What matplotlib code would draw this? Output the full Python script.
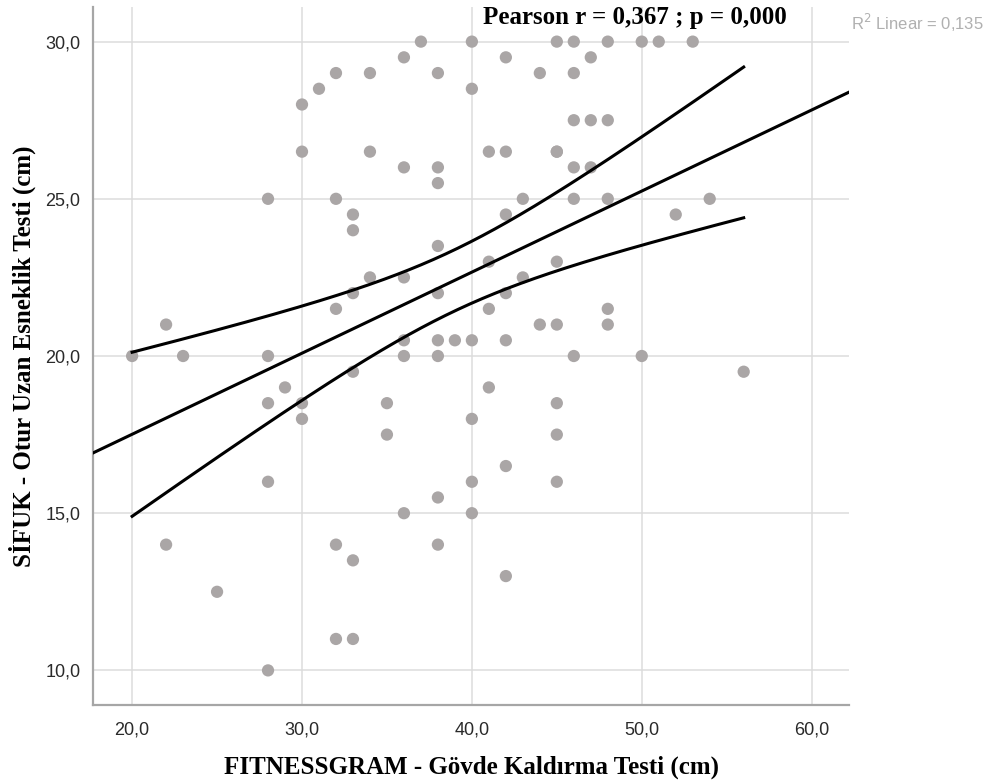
import numpy as np
import matplotlib
matplotlib.use('Agg')
import matplotlib.pyplot as plt

# Scatter data (x = trunk lift, y = sit and reach)
x_vals = [37, 40, 36, 32, 34, 38, 31, 40, 30, 30, 34, 41, 36, 38, 38, 28, 32, 33, 33, 38,
          41, 34, 36, 33, 38, 32, 41, 22, 36, 38, 39, 40, 42, 20, 23, 28, 36, 38, 29, 33,
          41, 45, 46, 48, 50, 51, 53, 42, 47, 44, 46, 46, 47, 48, 42, 45, 46, 47, 43, 46,
          48, 54, 42, 52, 45, 43, 42, 48, 44, 45, 48, 46, 50, 56, 45, 28, 30, 35, 30, 40,
          35, 42, 28, 40, 38, 36, 40, 22, 32, 38, 33, 42, 25, 32, 33, 28, 45, 45, 45]
y_vals = [30, 30, 29.5, 29, 29, 29, 28.5, 28.5, 28, 26.5, 26.5, 26.5, 26, 26, 25.5, 25, 25, 24.5, 24, 23.5,
          23, 22.5, 22.5, 22, 22, 21.5, 21.5, 21, 20.5, 20.5, 20.5, 20.5, 20.5, 20, 20, 20, 20, 20, 19, 19.5,
          19, 30, 30, 30, 30, 30, 30, 29.5, 29.5, 29, 29, 27.5, 27.5, 27.5, 26.5, 26.5, 26, 26, 25, 25,
          25, 25, 24.5, 24.5, 23, 22.5, 22, 21.5, 21, 21, 21, 20, 20, 19.5, 18.5, 18.5, 18.5, 18.5, 18, 18,
          17.5, 16.5, 16, 16, 15.5, 15, 15, 14, 14, 14, 13.5, 13, 12.5, 11, 11, 10, 17.5, 16, 26.5]

x_ticks = [20, 30, 40, 50, 60]
y_ticks = [10, 15, 20, 25, 30]
x_range = (17.7, 62.2)
y_range = (8.9, 31.1)
pearson_text = 'Pearson r = 0,367 ; p = 0,000'
r2_text = 'R$^2$ Linear = 0,135'
x_label = 'FITNESSGRAM - Gövde Kaldırma Testi (cm)'
y_label = 'SİFUK - Otur Uzan Esneklik Testi (cm)'

x = np.array(x_vals, dtype=float)
y = np.array(y_vals, dtype=float)

# linear fit and 95% mean confidence band
slope, intercept = np.polyfit(x, y, 1)
n = len(x)
resid = y - (intercept + slope * x)
s = np.sqrt(np.sum(resid ** 2) / (n - 2))
sxx = np.sum((x - x.mean()) ** 2)
t_crit = 1.984

fig = plt.figure(figsize=(9.93, 7.82), dpi=100)
ax = fig.add_axes([0.0937, 0.0985, 0.7613, 0.8925])

ax.set_xlim(*x_range)
ax.set_ylim(*y_range)
ax.set_xticks(x_ticks)
ax.set_yticks(y_ticks)
ax.set_xticklabels([f'{v:.1f}'.replace('.', ',') for v in x_ticks])
ax.set_yticklabels([f'{v:.1f}'.replace('.', ',') for v in y_ticks])
ax.grid(True, color='#dcdcdc', linewidth=1.1)
ax.set_axisbelow(True)
ax.tick_params(axis='x', length=0, pad=12, labelsize=13, labelcolor='#2a2a2a')
ax.tick_params(axis='y', length=0, pad=9, labelsize=13, labelcolor='#2a2a2a')
for lab in ax.get_xticklabels() + ax.get_yticklabels():
    lab.set_family('Liberation Sans')

for side in ['top', 'right']:
    ax.spines[side].set_visible(False)
for side in ['left', 'bottom']:
    ax.spines[side].set_color('#a6a6a6')
    ax.spines[side].set_linewidth(1.6)

ax.scatter(x, y, s=78, color='#aaa6a6', edgecolors='none', zorder=2)

xf = np.linspace(x_range[0], x_range[1], 200)
ax.plot(xf, intercept + slope * xf, color='black', linewidth=2.2, zorder=3)

xc = np.linspace(x.min(), x.max(), 200)
half = t_crit * s * np.sqrt(1.0 / n + (xc - x.mean()) ** 2 / sxx)
yc = intercept + slope * xc
ax.plot(xc, yc + half, color='black', linewidth=2.2, zorder=3)
ax.plot(xc, yc - half, color='black', linewidth=2.2, zorder=3)

ax.set_xlabel(x_label, family='Liberation Serif', fontweight='bold', fontsize=18, labelpad=12)
ax.set_ylabel(y_label, family='Liberation Serif', fontweight='bold', fontsize=18, labelpad=7)

fig.text(0.639, 0.977, pearson_text, family='Liberation Serif', fontweight='bold',
         fontsize=18, ha='center', va='center')
fig.text(0.857, 0.971, r2_text, family='Liberation Sans', fontsize=12,
         color='#b0b0b0', ha='left', va='center')

fig.savefig('out.png', dpi=100)
